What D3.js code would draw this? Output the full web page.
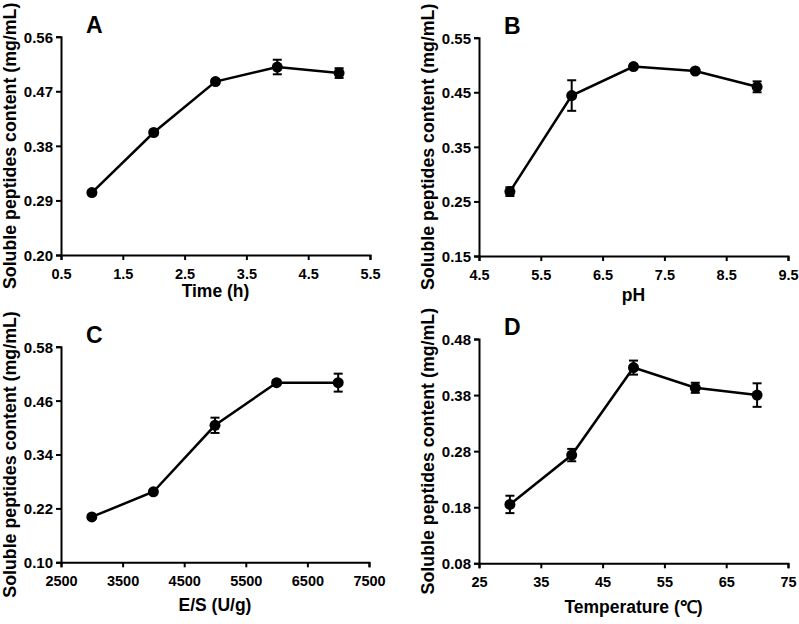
<!DOCTYPE html>
<html>
<head>
<meta charset="utf-8">
<script src="https://cdn.jsdelivr.net/npm/d3@7/dist/d3.min.js"></script>
<style>
  body { margin: 0; background: #fff; }
  svg { display: block; font-family: "Liberation Sans", Arial, sans-serif; font-weight: bold; }
  .axis path, .axis line { stroke: #000; stroke-width: 2px; }
  .axis text { fill: #000; }
</style>
</head>
<body>
<svg id="canvas"></svg>
<script>
var w = 799
var h = 624

// ########## Data ##########

var timeX = [1, 2, 3, 4, 5];
var timeY = [0.303, 0.402, 0.486, 0.510, 0.500];
var timeErr = [0.003, 0.004, 0.004, 0.012, 0.008];
var timeXTicks = [0.5, 1.5, 2.5, 3.5, 4.5, 5.5];
var timeYTicks = [0.20, 0.29, 0.38, 0.47, 0.56];

var phX = [5, 6, 7, 8, 9];
var phY = [0.268, 0.444, 0.497, 0.489, 0.460];
var phErr = [0.008, 0.028, 0.004, 0.004, 0.010];
var phXTicks = [4.5, 5.5, 6.5, 7.5, 8.5, 9.5];
var phYTicks = [0.15, 0.25, 0.35, 0.45, 0.55];

var esX = [3000, 4000, 5000, 6000, 7000];
var esY = [0.201, 0.257, 0.405, 0.500, 0.500];
var esErr = [0.004, 0.004, 0.017, 0.004, 0.020];
var esXTicks = [2500, 3500, 4500, 5500, 6500, 7500];
var esYTicks = [0.10, 0.22, 0.34, 0.46, 0.58];

var tempX = [30, 40, 50, 60, 70];
var tempY = [0.185, 0.273, 0.429, 0.393, 0.380];
var tempErr = [0.0155, 0.011, 0.0125, 0.009, 0.021];
var tempXTicks = [25, 35, 45, 55, 65, 75];
var tempYTicks = [0.08, 0.18, 0.28, 0.38, 0.48];

var yTitle = "Soluble peptides content (mg/mL)";

// ########## Panels ##########

var panels = [
    { letter: "A", xs: timeX, ys: timeY, err: timeErr, xt: timeXTicks, yt: timeYTicks, xFmt: ".1f", xTitle: "Time (h)",
      left: 61, right: 370, top: 36.7, bottom: 255, titleGap: 42 },
    { letter: "B", xs: phX, ys: phY, err: phErr, xt: phXTicks, yt: phYTicks, xFmt: ".1f", xTitle: "pH",
      left: 479, right: 788, top: 37.7, bottom: 256, titleGap: 45 },
    { letter: "C", xs: esX, ys: esY, err: esErr, xt: esXTicks, yt: esYTicks, xFmt: "d", xTitle: "E/S (U/g)",
      left: 61, right: 369, top: 346.7, bottom: 562.3, titleGap: 49 },
    { letter: "D", xs: tempX, ys: tempY, err: tempErr, xt: tempXTicks, yt: tempYTicks, xFmt: "d", xTitle: "Temperature (\u2103)",
      left: 479, right: 788, top: 339, bottom: 563.3, titleGap: 50 }
];

var svg = d3.select("#canvas")
    .attr("width", w)
    .attr("height", h);

panels.forEach(function (p) {
    var x = d3.scaleLinear()
        .domain(d3.extent(p.xt))
        .range([p.left, p.right]);
    var y = d3.scaleLinear()
        .domain(d3.extent(p.yt))
        .range([p.bottom, p.top]);

    var g = svg.append("g");

    // ########## Axes ##########

    var xAxis = g.append("g")
        .attr("class", "axis")
        .attr("transform", "translate(0," + p.bottom + ")")
        .call(d3.axisBottom(x).tickValues(p.xt).tickFormat(d3.format(p.xFmt)).tickSize(5).tickSizeOuter(5));
    xAxis.attr("font-family", null);
    xAxis.selectAll("text")
        .attr("dy", "0")
        .attr("y", 23.5)
        .style("font-size", "14.5px");

    var yAxis = g.append("g")
        .attr("class", "axis")
        .attr("transform", "translate(" + p.left + ",0)")
        .call(d3.axisLeft(y).tickValues(p.yt).tickFormat(d3.format(".2f")).tickSize(5).tickSizeOuter(5));
    yAxis.attr("font-family", null);
    yAxis.selectAll("text")
        .attr("x", -8)
        .attr("dy", "0.36em")
        .style("font-size", "15px");

    // ########## Titles ##########

    g.append("text")
        .attr("x", (p.left + p.right) / 2)
        .attr("y", p.bottom + p.titleGap)
        .attr("text-anchor", "middle")
        .style("font-size", "17.5px")
        .text(p.xTitle);

    g.append("text")
        .attr("transform", "translate(" + (p.left - 45) + "," + ((p.top + p.bottom) / 2) + ") rotate(-90)")
        .attr("text-anchor", "middle")
        .style("font-size", "17.8px")
        .text(yTitle);

    g.append("text")
        .attr("x", p.left + 25)
        .attr("y", p.top - 4)
        .style("font-size", "23px")
        .text(p.letter);

    // ########## Line, error bars, points ##########

    var pts = p.xs.map(function (d, i) { return { x: d, y: p.ys[i], e: p.err[i] }; });

    g.append("path")
        .datum(pts)
        .attr("fill", "none")
        .attr("stroke", "#000")
        .attr("stroke-width", 2.5)
        .attr("d", d3.line().x(function (d) { return x(d.x); }).y(function (d) { return y(d.y); }));

    var bars = g.selectAll(".err")
        .data(pts).enter()
        .append("g")
        .attr("class", "err")
        .attr("stroke", "#000")
        .attr("stroke-width", 2);

    bars.append("line")
        .attr("x1", function (d) { return x(d.x); })
        .attr("x2", function (d) { return x(d.x); })
        .attr("y1", function (d) { return y(d.y - d.e); })
        .attr("y2", function (d) { return y(d.y + d.e); });
    bars.append("line")
        .attr("x1", function (d) { return x(d.x) - 4.5; })
        .attr("x2", function (d) { return x(d.x) + 4.5; })
        .attr("y1", function (d) { return y(d.y + d.e); })
        .attr("y2", function (d) { return y(d.y + d.e); });
    bars.append("line")
        .attr("x1", function (d) { return x(d.x) - 4.5; })
        .attr("x2", function (d) { return x(d.x) + 4.5; })
        .attr("y1", function (d) { return y(d.y - d.e); })
        .attr("y2", function (d) { return y(d.y - d.e); });

    g.selectAll(".pt")
        .data(pts).enter()
        .append("circle")
        .attr("class", "pt")
        .attr("cx", function (d) { return x(d.x); })
        .attr("cy", function (d) { return y(d.y); })
        .attr("r", 5.5)
        .attr("fill", "#000");
});
</script>
</body>
</html>
